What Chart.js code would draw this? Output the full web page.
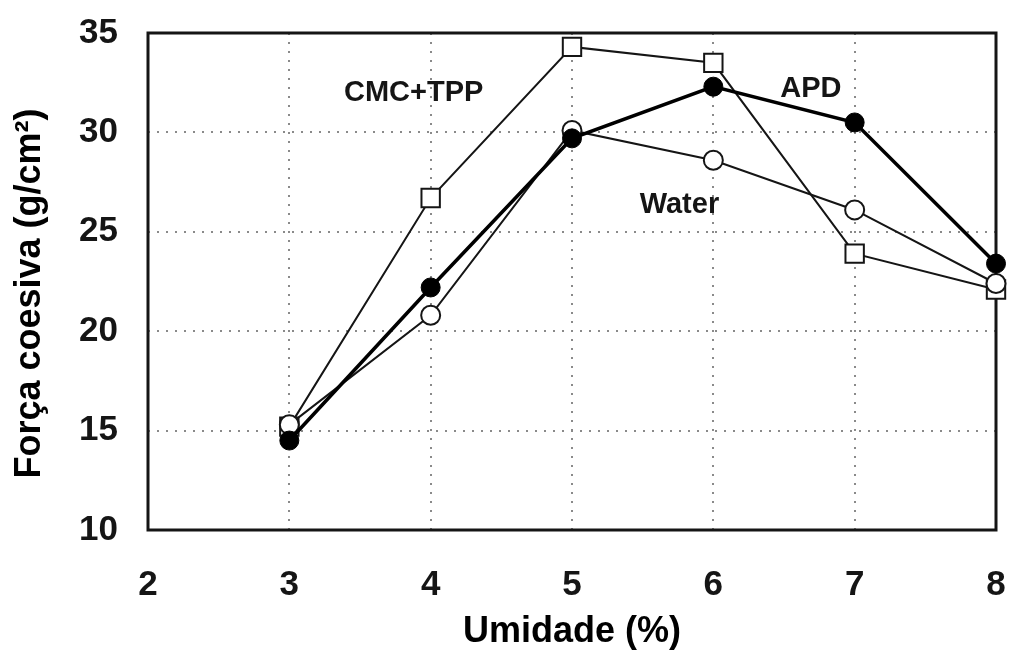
<!DOCTYPE html>
<html>
<head>
<meta charset="utf-8">
<script src="https://cdn.jsdelivr.net/npm/chart.js@4/dist/chart.umd.min.js"></script>
<style>
  html, body { margin: 0; padding: 0; background: #fff; }
  #wrap { width: 1011px; height: 652px; }
</style>
</head>
<body>
<div id="wrap"><canvas id="myChart"></canvas></div>
<script>
// moisture (%) and cohesive strength (g/cm2)
const umidade = [3, 4, 5, 6, 7, 8];
const cmcTpp = [15.2, 26.7, 34.3, 33.5, 23.9, 22.1];
const apd = [14.5, 22.2, 29.7, 32.3, 30.5, 23.4];
const water = [15.3, 20.8, 30.1, 28.6, 26.1, 22.4];
const yTicks = [10, 15, 20, 25, 30, 35];
const xTicks = [2, 3, 4, 5, 6, 7, 8];
const yTitle = "Força coesiva (g/cm²)";

// text labels placed in data units
const notes = [
  { text: "CMC+TPP", x: 3.88, y: 32.0 },
  { text: "APD", x: 6.69, y: 32.2 },
  { text: "Water", x: 5.76, y: 26.35 },
];

const FONT = "'Liberation Sans', Arial, sans-serif";
const INK = "#151515";

function pts(arr) {
  return umidade.map((u, i) => ({ x: u, y: arr[i] }));
}

// black frame round the plot area, series labels, y title
const framePlugin = {
  id: "frame",
  beforeDatasetsDraw(chart) {
    const { ctx, chartArea: a } = chart;
    ctx.save();
    ctx.strokeStyle = INK;
    ctx.lineWidth = 3;
    ctx.strokeRect(a.left, a.top, a.right - a.left, a.bottom - a.top);
    ctx.restore();
  },
  afterDatasetsDraw(chart) {
    const { ctx, scales, chartArea: a } = chart;
    ctx.save();
    ctx.fillStyle = INK;
    ctx.font = "bold 29px " + FONT;
    ctx.textAlign = "center";
    ctx.textBaseline = "middle";
    notes.forEach((n) => {
      ctx.fillText(n.text, scales.x.getPixelForValue(n.x), scales.y.getPixelForValue(n.y));
    });
    // y axis title, a bit below the plot middle like the original
    ctx.fillStyle = "#000";
    ctx.font = "bold 36px " + FONT;
    ctx.translate(30, (a.top + a.bottom) / 2 + 12);
    ctx.rotate(-Math.PI / 2);
    ctx.fillText(yTitle, 0, 0);
    ctx.restore();
  },
};

const ctx = document.getElementById("myChart").getContext("2d");

const myChart = new Chart(ctx, {
  type: "line",
  data: {
    datasets: [
      {
        label: "CMC+TPP",
        data: pts(cmcTpp),
        borderColor: INK,
        borderWidth: 2,
        pointStyle: "rect",
        pointRadius: 13,
        pointBackgroundColor: "#fff",
        pointBorderColor: INK,
        pointBorderWidth: 2,
        clip: false,
        order: 3,
      },
      {
        label: "Water",
        data: pts(water),
        borderColor: INK,
        borderWidth: 2,
        pointStyle: "circle",
        pointRadius: 9.5,
        pointBackgroundColor: "#fff",
        pointBorderColor: INK,
        pointBorderWidth: 2,
        clip: false,
        order: 2,
      },
      {
        label: "APD",
        data: pts(apd),
        borderColor: "#000",
        borderWidth: 3.5,
        pointStyle: "circle",
        pointRadius: 9.5,
        pointBackgroundColor: "#000",
        pointBorderColor: "#000",
        pointBorderWidth: 1,
        clip: false,
        order: 1,
      },
    ],
  },
  options: {
    responsive: true,
    maintainAspectRatio: false,
    animation: false,
    layout: {
      padding: { left: 0, right: 13, top: 33, bottom: 0 },
    },
    plugins: {
      legend: { display: false },
      tooltip: { enabled: false },
    },
    scales: {
      x: {
        type: "linear",
        min: 2,
        max: 8,
        afterBuildTicks: (s) => { s.ticks = xTicks.map((v) => ({ value: v })); },
        afterFit: (s) => {
          s.height = 122;
          s.paddingLeft = 0;
          s.paddingRight = 0;
        },
        ticks: {
          color: INK,
          padding: 34,
          font: { family: FONT, size: 35, weight: "bold" },
        },
        grid: {
          color: "#8a8a8a",
          lineWidth: 2,
          drawTicks: false,
        },
        border: { display: false, dash: [2, 7] },
        title: {
          display: true,
          text: "Umidade (%)",
          color: "#000",
          padding: { top: 0, bottom: -2 },
          font: { family: FONT, size: 36, weight: "bold" },
        },
      },
      y: {
        min: 10,
        max: 35,
        afterBuildTicks: (s) => { s.ticks = yTicks.map((v) => ({ value: v })); },
        afterFit: (s) => {
          s.width = 148;
          s.paddingTop = 0;
          s.paddingBottom = 0;
        },
        ticks: {
          color: INK,
          padding: 30,
          font: { family: FONT, size: 35, weight: "bold" },
        },
        grid: {
          color: "#8a8a8a",
          lineWidth: 2,
          drawTicks: false,
        },
        border: { display: false, dash: [2, 7] },
        title: { display: false },
      },
    },
  },
  plugins: [framePlugin],
});
</script>
</body>
</html>
